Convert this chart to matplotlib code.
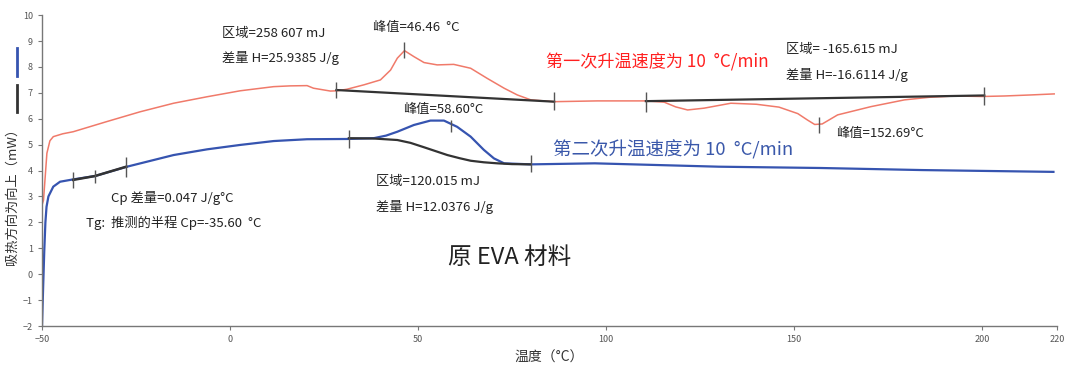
import matplotlib
matplotlib.use("Agg")
import matplotlib.pyplot as plt
from matplotlib.lines import Line2D
import numpy as np

plt.rcParams['font.family'] = ['Noto Sans CJK SC', 'DejaVu Sans']

# first heating (red)
red_x = [-50, -49.6, -48.7, -47.9, -47.0, -44.5, -41.7, -32.8, -23.9, -15, -6.1, 2.7, 11.6, 16, 20.5, 22.2,
         26.7, 28.5, 31.1, 35.6, 40, 42.7, 44.5, 46.4, 48.9, 51.6, 55.1, 59.5, 64, 68.4, 72.9, 76.4,
         80, 86.2, 97.7, 110.6, 115.5, 118.5, 121.7, 126.1, 133.2, 140, 146, 151, 153.6, 155.5, 157.5,
         161.6, 170.5, 179.4, 186, 192.7, 200, 206, 213, 219.2]
red_y = [2.67, 2.86, 4.67, 5.15, 5.31, 5.42, 5.50, 5.89, 6.27, 6.60, 6.85, 7.08, 7.24, 7.27, 7.28, 7.18,
         7.07, 7.08, 7.14, 7.31, 7.50, 7.88, 8.34, 8.63, 8.40, 8.17, 8.08, 8.10, 7.95, 7.56, 7.18, 6.92,
         6.73, 6.66, 6.69, 6.69, 6.64, 6.46, 6.34, 6.41, 6.60, 6.56, 6.45, 6.20, 5.95, 5.78, 5.80,
         6.15, 6.47, 6.73, 6.83, 6.88, 6.86, 6.88, 6.92, 6.96]

# second heating (blue)
blue_x = [-50, -49.7, -49.4, -49.1, -48.8, -48.3, -47, -45.2, -41.7, -35.9, -27.4, -15, -6.1, 2.7, 11.6,
          20.5, 31.2, 38.2, 41.5, 44.5, 48.9, 53.3, 56.9, 60.4, 64, 67.5, 70.2, 72.9, 80, 97, 130,
          157, 184, 219]
blue_y = [-2, -0.5, 0.9, 2.0, 2.6, 3.0, 3.38, 3.57, 3.66, 3.79, 4.15, 4.60, 4.82, 4.99, 5.14,
          5.21, 5.22, 5.25, 5.35, 5.50, 5.76, 5.93, 5.93, 5.69, 5.31, 4.80, 4.47, 4.28, 4.24, 4.28, 4.15,
          4.10, 4.02, 3.95]

# integration baselines (black)
base1_x = [28.3, 86.2]
base1_y = [7.11, 6.66]
base2_x = [110.6, 200.6]
base2_y = [6.68, 6.90]
base3_x = [31.6, 38, 44.5, 48, 51.6, 54.7, 57.8, 61, 64, 67.5, 71.1, 75, 80]
base3_y = [5.25, 5.24, 5.18, 5.07, 4.90, 4.75, 4.60, 4.48, 4.38, 4.32, 4.28, 4.25, 4.24]
tg_x = [-41.7, -35.9, -27.6]
tg_y = [3.64, 3.79, 4.15]

# marker ticks (x, y_low, y_high)
marks_x = [28.3, 86.2, 110.6, 200.6, 46.4, 156.6, 31.6, 58.7, 80, -41.7, -35.9, -27.6]
marks_lo = [6.79, 6.34, 6.27, 6.53, 8.34, 5.45, 4.87, 5.50, 3.96, 3.32, 3.51, 3.76]
marks_hi = [7.43, 7.05, 7.05, 7.24, 8.98, 6.07, 5.57, 5.95, 4.60, 3.96, 4.02, 4.54]

red = '#f07a6a'
blue = '#3654b0'
dark = '#333333'

fig = plt.figure(figsize=(10.8, 3.67), dpi=100)
ax = fig.add_axes([0.0389, 0.1117, 0.94, 0.847])

ax.plot(red_x, red_y, color=red, lw=1.1)
ax.plot(blue_x, blue_y, color=blue, lw=1.6)
ax.plot(base1_x, base1_y, color=dark, lw=1.6)
ax.plot(base2_x, base2_y, color=dark, lw=1.6)
ax.plot(base3_x, base3_y, color=dark, lw=1.6)
ax.plot(tg_x, tg_y, color=dark, lw=1.8)
ax.vlines(marks_x, marks_lo, marks_hi, color='#555555', lw=1.0)

ax.set_xlim(-50, 220)
ax.set_ylim(-2, 10)
ax.set_xticks([-50, 0, 50, 100, 150, 200, 220])
ax.set_yticks(range(-2, 11))
ax.tick_params(labelsize=6.5, labelcolor='#555555', color='#777777', length=3, width=0.8)
for s in ['top', 'right']:
    ax.spines[s].set_visible(False)
for s in ['left', 'bottom']:
    ax.spines[s].set_color('#777777')
    ax.spines[s].set_linewidth(1.0)

ax.set_xlabel('温度（°C）', fontsize=10, color='#333333', labelpad=5)
fig.text(12 / 1080, 1 - 193 / 367, '吸热方向为向上（mW）', rotation=90, fontsize=9.5,
         color='#333333', ha='center', va='center')

fs = 9.5
ax.text(-2.1, 9.31, '区域=258 607 mJ', fontsize=fs, va='center', color='#222222')
ax.text(-2.1, 8.35, '差量 H=25.9385 J/g', fontsize=fs, va='center', color='#222222')
ax.text(37.9, 9.54, '峰值=46.46  °C', fontsize=fs, va='center', color='#222222')
ax.text(84, 8.19, '第一次升温速度为 10  °C/min', fontsize=12.3, va='center', color='#ff2020')
ax.text(147.9, 8.66, '区域= -165.615 mJ', fontsize=fs, va='center', color='#222222')
ax.text(147.9, 7.69, '差量 H=-16.6114 J/g', fontsize=fs, va='center', color='#222222')
ax.text(45.9, 6.34, '峰值=58.60°C', fontsize=fs, va='center', color='#222222')
ax.text(85.8, 4.80, '第二次升温速度为 10  °C/min', fontsize=13.3, va='center', color='#3a58aa')
ax.text(161.2, 5.45, '峰值=152.69°C', fontsize=fs, va='center', color='#222222')
ax.text(38.7, 3.56, '区域=120.015 mJ', fontsize=fs, va='center', color='#222222')
ax.text(38.7, 2.59, '差量 H=12.0376 J/g', fontsize=fs, va='center', color='#222222')
ax.text(-31.6, 2.94, 'Cp 差量=0.047 J/g°C', fontsize=fs, va='center', color='#222222')
ax.text(-38.3, 1.98, 'Tg:  推测的半程 Cp=-35.60  °C', fontsize=fs, va='center', color='#222222')
ax.text(57.9, 0.63, '原 EVA 材料', fontsize=17, va='center', color='#222222')

# vertical legend swatches at far left
fig.add_artist(Line2D([17 / 1080, 17 / 1080], [1 - 48 / 367, 1 - 76 / 367], color=blue, lw=2))
fig.add_artist(Line2D([17 / 1080, 17 / 1080], [1 - 85 / 367, 1 - 112 / 367], color=dark, lw=2))

fig.savefig('out.png', dpi=100)
